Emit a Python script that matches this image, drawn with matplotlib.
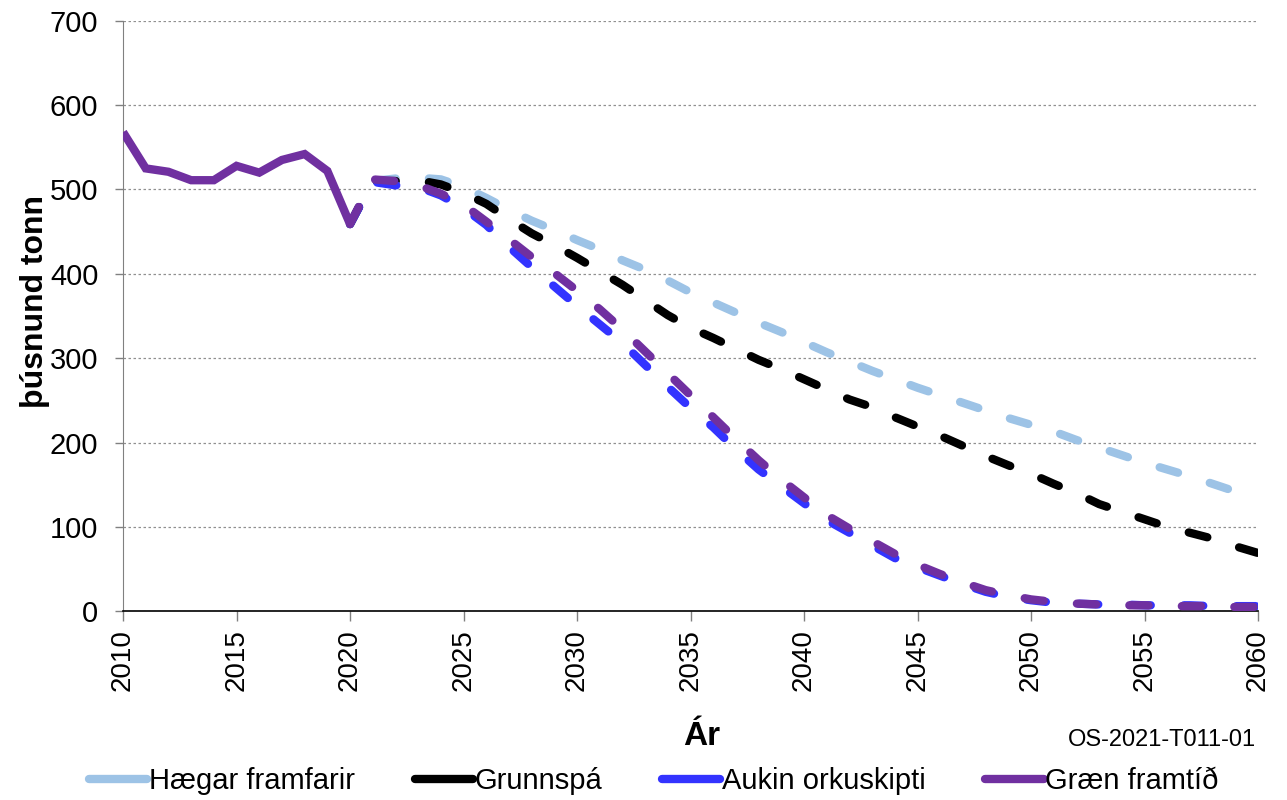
import numpy as np
import matplotlib
matplotlib.use("Agg")
from matplotlib import pyplot as plt
from matplotlib.lines import Line2D

plt.rcParams["font.family"] = ["Liberation Sans", "DejaVu Sans"]

# historical emissions (þúsund tonn)
hist_years = list(range(2010, 2021))
hist_vals = [568, 525, 521, 511, 511, 528, 520, 535, 542, 522, 459]

# projections, 2020-2060
proj_years = list(range(2020, 2061))
haegar = [459, 510, 513, 514, 512, 503, 490, 476, 463, 452, 440,
          429, 416, 405, 392, 378, 366, 354, 342, 331, 319,
          307, 296, 285, 275, 265, 256, 247, 238, 229, 221,
          213, 203, 194, 185, 176, 168, 160, 151, 142, 134]
grunnspa = [459, 510, 510, 511, 506, 496, 483, 465, 448, 434, 419,
            403, 387, 369, 351, 336, 324, 311, 298, 287, 275,
            263, 251, 242, 230, 219, 208, 196, 184, 173, 163,
            151, 140, 127, 118, 109, 100, 93, 86, 77, 69]
aukin = [459, 509, 505, 503, 493, 478, 458, 432, 408, 385, 362,
         340, 318, 292, 266, 241, 218, 192, 168, 148, 128,
         108, 93, 78, 63, 52, 42, 32, 23, 17, 13,
         10, 9, 8, 8, 7, 7, 7, 6, 6, 6]
graen = [459, 512, 510, 505, 495, 482, 462, 441, 420, 401, 380,
         358, 334, 308, 282, 256, 230, 204, 179, 156, 135,
         114, 98, 83, 68, 55, 44, 34, 25, 19, 14,
         11, 9, 8, 7, 7, 6, 6, 6, 5, 5]

labels = ["Hægar framfarir", "Grunnspá", "Aukin orkuskipti", "Græn framtíð"]
colors = ["#9DC3E6", "#000000", "#3333FF", "#7030A0"]
series = [haegar, grunnspa, aukin, graen]

fig = plt.figure(figsize=(12.87, 8), dpi=100)
ax = fig.add_axes([0.0956, 0.236, 0.8819, 0.738])

lw = 6
for vals, c in zip(series, colors):
    ax.plot(proj_years, vals, color=c, lw=lw, linestyle=(0, (2.3, 4.0)),
            dash_capstyle="round", solid_capstyle="round", zorder=3)
ax.plot(hist_years, hist_vals, color="#7030A0", lw=lw, solid_joinstyle="miter",
        solid_capstyle="butt", zorder=4)

ax.set_xlim(2010, 2060)
ax.set_ylim(0, 700)
ax.set_yticks(np.arange(0, 701, 100))
ax.set_xticks(np.arange(2010, 2061, 5))
ax.tick_params(axis="y", labelsize=21, length=5.8, width=1, color="#808080", pad=12)
ax.tick_params(axis="x", labelsize=20, length=7, width=1, color="#808080",
               labelrotation=90, pad=6)
ax.grid(axis="y", linestyle=(0, (2, 2)), color="#909090", lw=0.9)
ax.set_axisbelow(True)
for s in ["top", "right"]:
    ax.spines[s].set_visible(False)
ax.spines["left"].set_color("#808080")
ax.spines["bottom"].set_color("#000000")
ax.spines["bottom"].set_linewidth(1.2)

fig.text(0.027, 0.623, "þúsnund tonn", rotation=90, ha="center", va="center",
         fontsize=23, fontweight="bold")
fig.text(0.545, 0.079, "Ár", ha="center", va="center", fontsize=24, fontweight="bold")
fig.text(0.976, 0.075, "OS-2021-T011-01", ha="right", va="center", fontsize=17)

handles = [Line2D([0], [0], color=c, lw=6, solid_capstyle="round") for c in colors]
fig.legend(handles, labels, loc="center", bbox_to_anchor=(0.508, 0.024), ncol=4,
           frameon=False, fontsize=21, handlelength=2.0, handletextpad=0.05,
           columnspacing=2.05)

fig.savefig("out.png", dpi=100)
